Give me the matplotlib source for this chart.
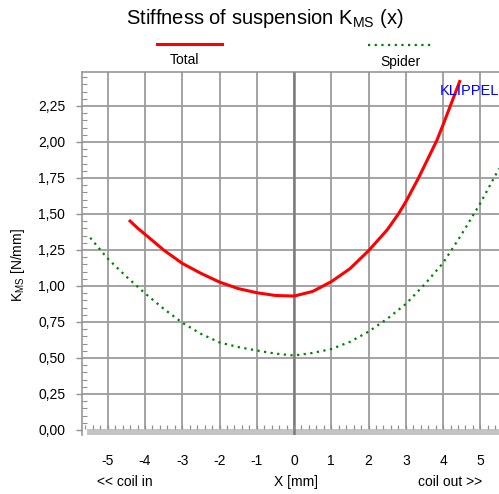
import matplotlib
matplotlib.use("Agg")
import matplotlib.pyplot as plt
from matplotlib.ticker import MultipleLocator, FuncFormatter
from matplotlib.lines import Line2D
import numpy as np

plt.rcParams['font.family'] = ['Liberation Sans', 'DejaVu Sans']
plt.rcParams['mathtext.fontset'] = 'custom'
plt.rcParams['mathtext.rm'] = 'Liberation Sans'
plt.rcParams['mathtext.it'] = 'Liberation Sans'
plt.rcParams['axes.unicode_minus'] = False

# Total stiffness
x_total = [-4.43, -4.19, -4.0, -3.5, -3.0, -2.5, -2.0, -1.5, -1.0, -0.5, 0.0,
           0.5, 1.0, 1.5, 2.0, 2.5, 2.8, 3.0, 3.34, 3.5, 3.83, 4.0, 4.46]
k_total = [1.458, 1.40, 1.359, 1.25, 1.157, 1.088, 1.027, 0.982, 0.953, 0.934, 0.93,
           0.962, 1.03, 1.12, 1.245, 1.39, 1.50, 1.585, 1.75, 1.835, 2.01, 2.12, 2.43]

# Spider stiffness
x_spider = [-5.47, -5.0, -4.5, -4.0, -3.5, -3.0, -2.5, -2.0, -1.5, -1.0, -0.5, 0.0,
            0.5, 1.0, 1.5, 2.0, 2.5, 3.0, 3.5, 4.0, 4.5, 5.0, 5.5]
k_spider = [1.335, 1.19, 1.065, 0.949, 0.842, 0.745, 0.668, 0.608, 0.576, 0.552, 0.53, 0.517,
            0.535, 0.562, 0.612, 0.683, 0.772, 0.875, 1.01, 1.16, 1.36, 1.575, 1.815]

x_ticks = [-5, -4, -3, -2, -1, 0, 1, 2, 3, 4, 5]
y_ticks = [0.0, 0.25, 0.5, 0.75, 1.0, 1.25, 1.5, 1.75, 2.0, 2.25]

grid_col = '#9c9c9c'
spine_col = '#909090'

fig = plt.figure(figsize=(4.99, 4.94), dpi=100)
ax = fig.add_axes([82/499, 1 - 435/494, 1 - 82/499, (435 - 72)/494])

ax.set_xticks(x_ticks)
ax.set_yticks(y_ticks)
ax.yaxis.set_minor_locator(MultipleLocator(0.05))
ax.yaxis.set_major_formatter(FuncFormatter(lambda v, p: f"{v:.2f}".replace('.', ',')))

# grid drawn as plain lines
for xv in x_ticks:
    ax.plot([xv, xv], [-0.035, 2.486], color=grid_col, lw=1.3, zorder=1)
for yv in y_ticks[1:]:
    ax.plot([-5.69, 5.5], [yv, yv], color=grid_col, lw=1.3, zorder=1)

# grey band along the bottom
ax.axhspan(-0.035, 0.009, xmin=(-5.55 + 5.69)/11.19, xmax=1, color='#c4c4c4', lw=0, zorder=1.1)

ax.plot([0, 0], [-0.035, 2.486], color='#7c7c7c', lw=1.8, zorder=1.2)

# small ticks above the band
minor_x = np.arange(-5.6, 5.61, 0.2)
ax.vlines(minor_x, 0.009, 0.037, color=spine_col, lw=0.9, zorder=1.2)

ax.set_xlim(-5.69, 5.5)
ax.set_ylim(-0.035, 2.486)

ax.tick_params(axis='x', which='both', length=0, pad=14, labelsize=10)
ax.tick_params(axis='y', which='major', direction='out', length=4, width=1, color=spine_col,
               pad=8, labelsize=10)
ax.tick_params(axis='y', which='minor', direction='in', length=3.5, width=0.8, color=spine_col)

for s in ['right', 'bottom']:
    ax.spines[s].set_visible(False)
ax.spines['left'].set_color(spine_col)
ax.spines['left'].set_linewidth(1.1)
ax.spines['top'].set_color(spine_col)
ax.spines['top'].set_linewidth(1.1)

ax.plot(x_total, k_total, color='#ff0000', lw=2.2, solid_capstyle='butt', zorder=3)
ax.plot(x_spider, k_spider, color='#008000', lw=1.6, linestyle=(0, (1, 2)), zorder=3)

ax.text(0.941, 0.815, 'KLIPPEL', transform=fig.transFigure, color='#0000ff',
        fontsize=10.5, ha='center', va='center')

fig.text(0.531, 0.963, 'Stiffness of suspension K$_{\\mathrm{MS}}$ (x)', fontsize=14.5,
         ha='center', va='center')

fig.add_artist(Line2D([157/499, 222/499], [1 - 44/494, 1 - 44/494], color='#ff0000', lw=2.2))
fig.text(185/499, 1 - 60/494, 'Total', fontsize=10, ha='center', va='center')
fig.add_artist(Line2D([368/499, 433/499], [1 - 45/494, 1 - 45/494], color='#008000', lw=1.6,
                      linestyle=(0, (1, 2))))
fig.text(400/499, 1 - 62/494, 'Spider', fontsize=10, ha='center', va='center')

fig.text(18/499, 1 - 265/494, 'K$_{\\mathrm{MS}}$ [N/mm]', fontsize=10, rotation=90,
         ha='center', va='center')

fig.text(125/499, 1 - 482/494, '<< coil in', fontsize=10, ha='center', va='center')
fig.text(296/499, 1 - 482/494, 'X [mm]', fontsize=10, ha='center', va='center')
fig.text(450/499, 1 - 482/494, 'coil out >>', fontsize=10, ha='center', va='center')

fig.savefig('out.png', dpi=100)
